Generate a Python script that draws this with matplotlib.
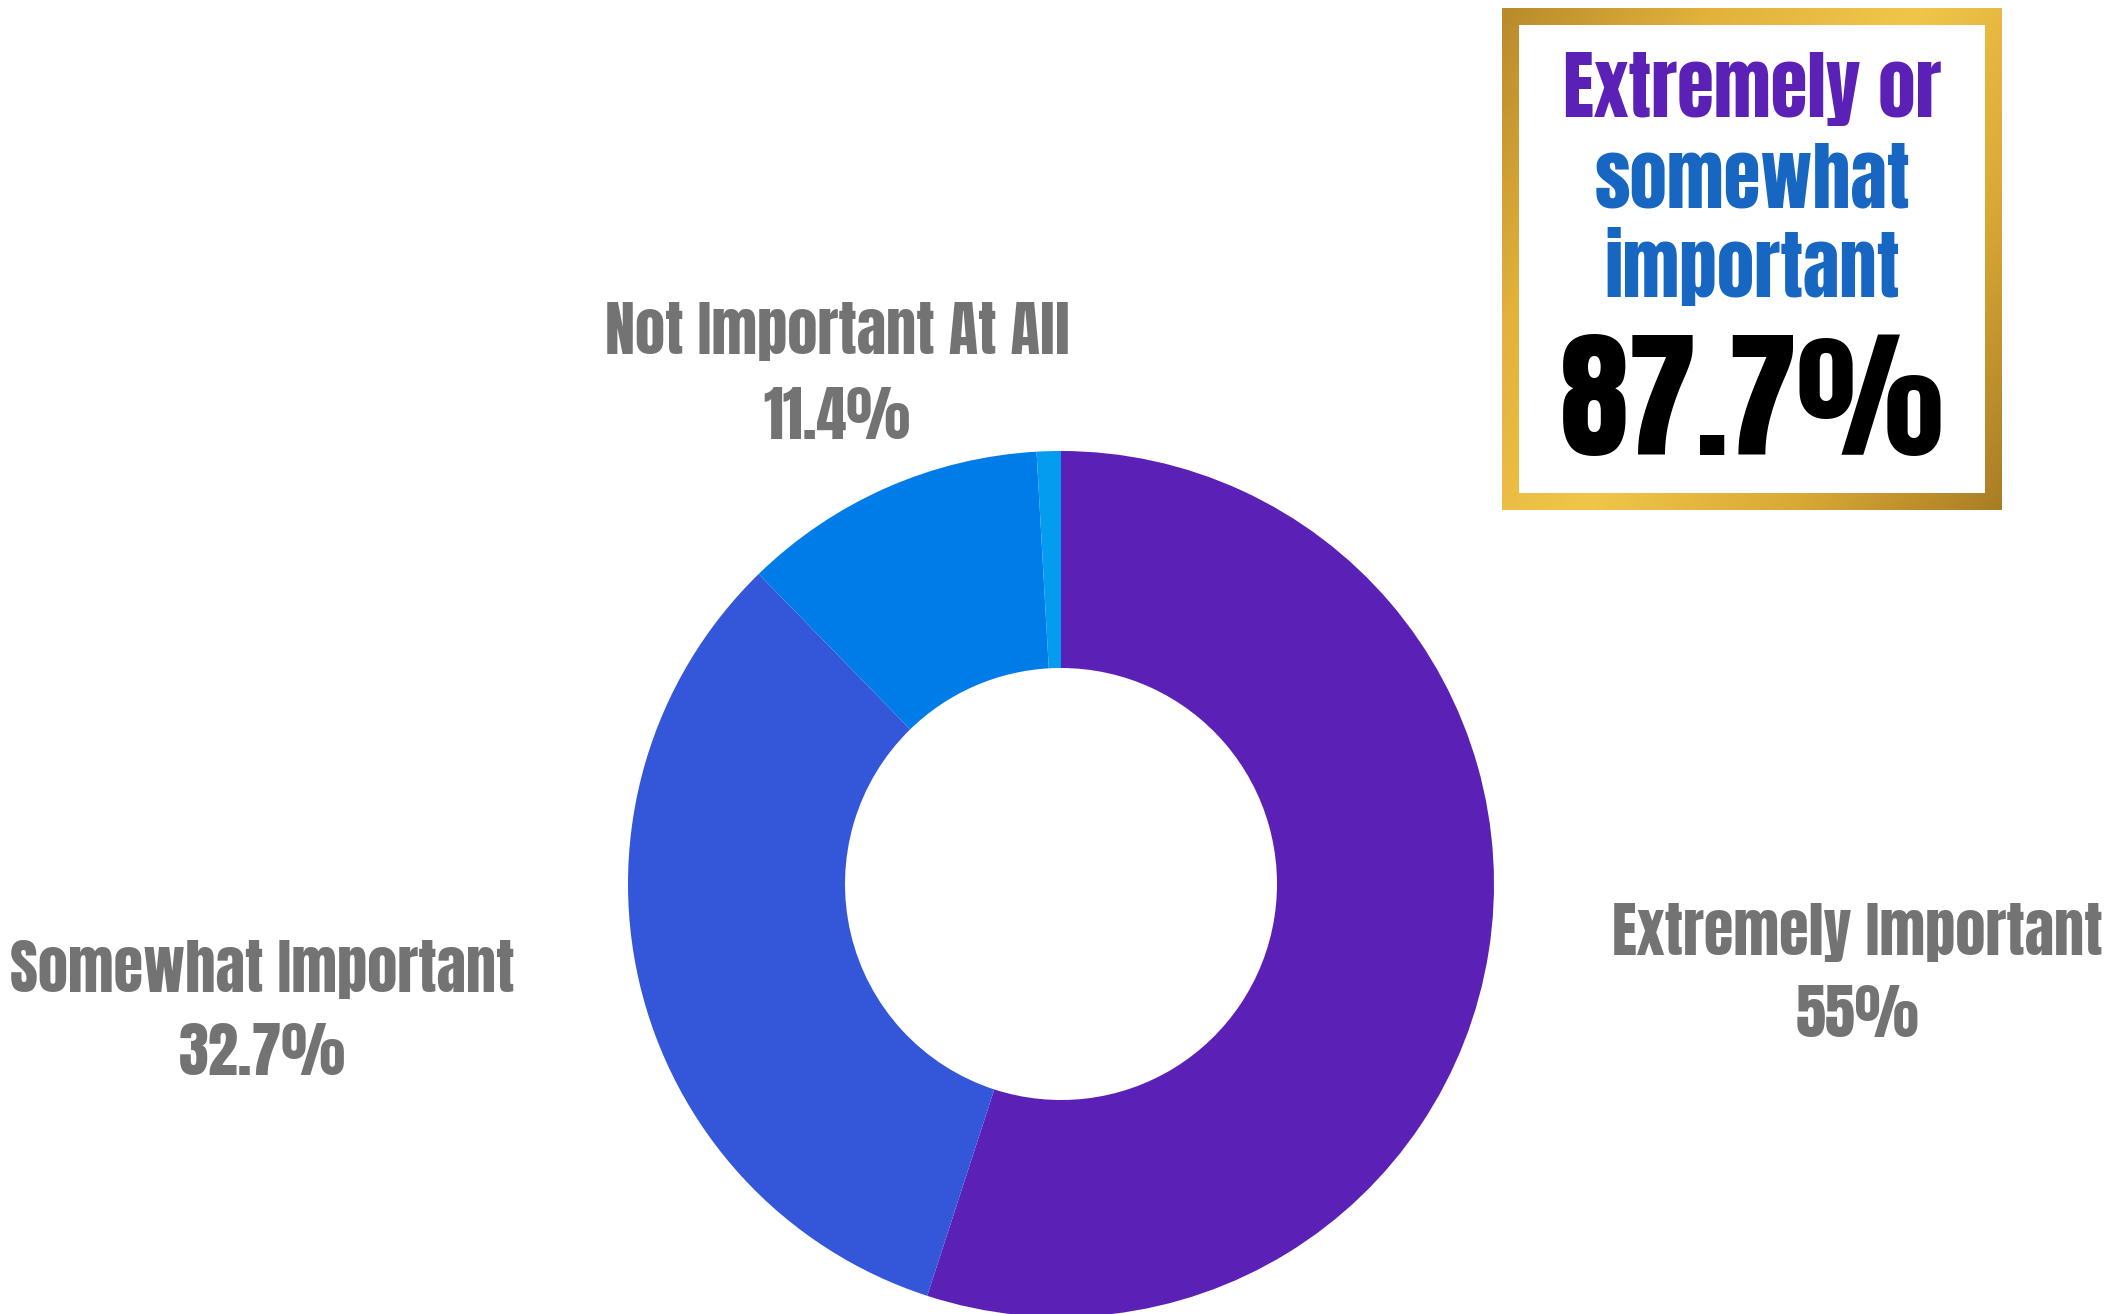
import numpy as np
import matplotlib.pyplot as plt
from matplotlib.patches import Rectangle
from matplotlib.colors import LinearSegmentedColormap

FONT = ['Anton', 'DejaVu Sans']

# data
labels = ['Extremely Important', 'Somewhat Important', 'Not Important At All', '']
values = [55.0, 32.7, 11.4, 0.9]
label_text = ['55%', '32.7%', '11.4%', '']
colors = ['#5B21B6', '#3456D8', '#007CE8', '#039CEF']
total_label = '87.7%'

W, H = 2117, 1314
fig = plt.figure(figsize=(W / 100, H / 100), dpi=100, facecolor='white')
ax = fig.add_axes([0, 0, 1, 1])

# donut
ax.pie(values, colors=colors, startangle=90, counterclock=False,
       center=(1061, H - 884), radius=433,
       wedgeprops=dict(width=217, linewidth=0), frame=True)

C_LABEL = '#737373'
lab_pos = [(1857, 955, 1037), (262, 992, 1075), (837, 354, 439)]
for i, (x, y1, y2) in enumerate(lab_pos):
    ax.text(x, H - y1, labels[i], ha='center', va='baseline', fontsize=43.5,
            color=C_LABEL, family=FONT)
    ax.text(x, H - y2, label_text[i], ha='center', va='baseline', fontsize=43.5,
            color=C_LABEL, family=FONT)

# gold framed box
gold = LinearSegmentedColormap.from_list(
    'gold', ['#B98A2B', '#E2B23C', '#F1C54A', '#D9A935', '#A97D25'])
gx, gy = np.meshgrid(np.linspace(0, 1, 200), np.linspace(0, 1, 200))
ax.imshow(gx * 0.6 + gy * 0.4, cmap=gold, extent=(1502, 2002, H - 510, H - 8),
          aspect='auto', zorder=3)
ax.add_patch(Rectangle((1519, H - 493), 466, 468, facecolor='white',
                       edgecolor='none', zorder=4))

cx = 1752
ax.text(cx, H - 117, 'Extremely or', ha='center', va='baseline', fontsize=54,
        color='#5B21B6', family=FONT, zorder=5)
ax.text(cx, H - 207, 'somewhat', ha='center', va='baseline', fontsize=54,
        color='#1766C1', family=FONT, zorder=5)
ax.text(cx, H - 297, 'important', ha='center', va='baseline', fontsize=54,
        color='#1766C1', family=FONT, zorder=5)
ax.text(cx, H - 455, total_label, ha='center', va='baseline', fontsize=100,
        color='black', family=FONT, zorder=5)

ax.set_xlim(0, W)
ax.set_ylim(0, H)
ax.set_aspect('equal')
ax.axis('off')

fig.savefig('out.png', dpi=100, facecolor='white')
